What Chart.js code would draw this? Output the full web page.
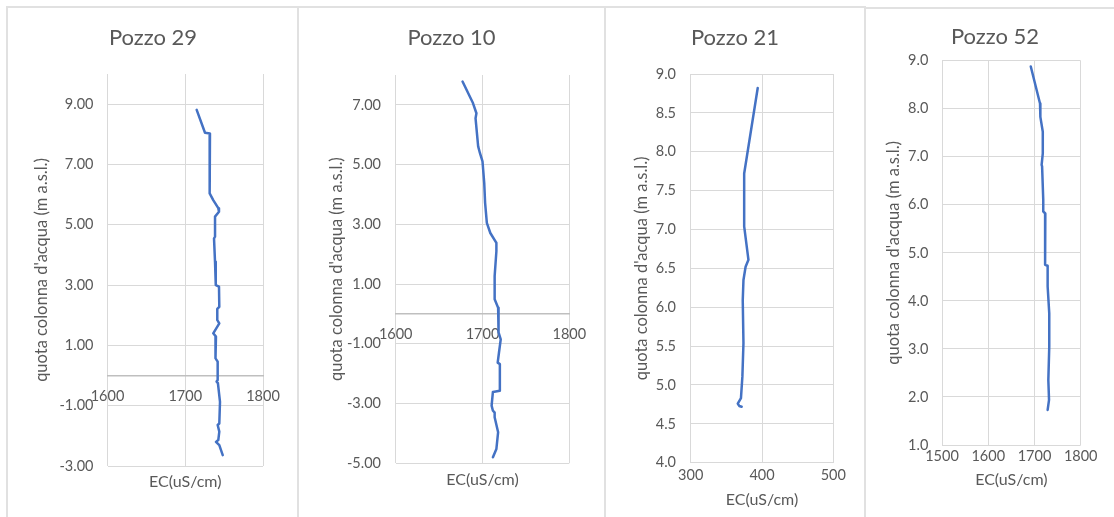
<!DOCTYPE html>
<html>
<head>
<meta charset="utf-8">
<script src="https://cdn.jsdelivr.net/npm/chart.js@4.4.1/dist/chart.umd.min.js"></script>
<style>
  html, body { margin: 0; padding: 0; background: #fff; width: 1114px; height: 517px; overflow: hidden; position: relative; }
  .card { position: absolute; box-sizing: border-box; border: 2px solid #e1e1e1; border-bottom: none; background: #fff; }
  canvas { position: absolute; }
</style>
</head>
<body>
<div class="card" style="left:6px;top:6px;width:293px;height:520px"></div>
<div class="card" style="left:297px;top:6px;width:310px;height:520px"></div>
<div class="card" style="left:604px;top:6px;width:262px;height:520px"></div>
<div class="card" style="left:864px;top:7px;width:260px;height:520px"></div>

<canvas id="c29" width="288" height="508" style="left:9px;top:9px"></canvas>
<canvas id="c10" width="303" height="508" style="left:300px;top:9px"></canvas>
<canvas id="c21" width="256" height="508" style="left:607px;top:9px"></canvas>
<canvas id="c52" width="256" height="507" style="left:867px;top:10px"></canvas>

<script>
// Conductivity profiles (EC, uS/cm) against water-column elevation (m a.s.l.)
const pozzo29EC    = [1714.7, 1725.4, 1731.8, 1731.8, 1731.0, 1731.8, 1731.0, 1736.0, 1742.5, 1743.4, 1738.3, 1738.3, 1737.0, 1738.3, 1739.0, 1739.5, 1743.4, 1743.8, 1741.2, 1741.2, 1743.8, 1736.0, 1739.5, 1739.5, 1738.3, 1741.7, 1741.7, 1740.3, 1742.0, 1744.7, 1743.8, 1741.7, 1743.8, 1742.5, 1739.5, 1743.8, 1748.2];
const pozzo29Quota = [8.81, 8.05, 8.03, 6.82, 6.75, 6.15, 6.04, 5.82, 5.55, 5.43, 5.27, 4.60, 4.55, 3.77, 3.72, 3.00, 2.95, 2.28, 2.21, 1.84, 1.73, 1.40, 1.29, 0.62, 0.57, 0.46, -0.15, -0.20, -0.25, -0.87, -1.59, -1.64, -1.86, -2.14, -2.20, -2.31, -2.64];

const pozzo10EC    = [1677, 1689, 1693, 1692, 1695, 1697, 1700, 1702, 1703, 1705, 1709, 1716, 1716, 1714, 1714, 1718, 1718, 1719, 1721, 1719, 1717.5, 1720, 1720, 1712, 1710.5, 1712, 1714, 1714, 1718, 1716, 1712];
const pozzo10Quota = [7.78, 7.06, 6.72, 6.55, 5.61, 5.39, 5.11, 4.38, 3.72, 3.05, 2.71, 2.38, 2.10, 1.27, 0.49, 0.21, 0.04, -0.62, -0.85, -1.29, -1.63, -1.68, -2.57, -2.61, -3.07, -3.24, -3.30, -3.46, -3.96, -4.52, -4.80];

const pozzo21EC    = [394, 375, 375, 377.5, 381, 377, 374, 373, 374, 372.5, 370.5, 366, 368, 371.5];
const pozzo21Quota = [8.82, 7.72, 7.04, 6.86, 6.61, 6.52, 6.35, 6.09, 5.54, 5.11, 4.83, 4.76, 4.73, 4.72];

const pozzo52EC    = [1692, 1712, 1713.5, 1712, 1718, 1718, 1715.5, 1716.5, 1719, 1719, 1723.5, 1723, 1723, 1728.5, 1728.5, 1732, 1732, 1730, 1731.5, 1728.5];
const pozzo52Quota = [8.88, 8.11, 8.01, 7.83, 7.52, 7.07, 6.83, 6.80, 6.10, 5.86, 5.82, 4.99, 4.75, 4.73, 4.30, 3.74, 3.05, 2.35, 1.94, 1.73];

// Axis ticks
const pozzo29XTicks = [1600, 1700, 1800];
const pozzo29YTicks = [-3, -1, 1, 3, 5, 7, 9];
const pozzo10XTicks = [1600, 1700, 1800];
const pozzo10YTicks = [-5, -3, -1, 1, 3, 5, 7];
const pozzo21XTicks = [300, 400, 500];
const pozzo21YTicks = [4.0, 4.5, 5.0, 5.5, 6.0, 6.5, 7.0, 7.5, 8.0, 8.5, 9.0];
const pozzo52XTicks = [1500, 1600, 1700, 1800];
const pozzo52YTicks = [1, 2, 3, 4, 5, 6, 7, 8, 9];

const X_TITLE = 'EC(uS/cm)';
const Y_TITLE = "quota colonna d'acqua (m a.s.l.)";

Chart.defaults.font.family = "Lato, 'Open Sans', sans-serif";
Chart.defaults.color = '#595959';

const GRID = '#d9d9d9';
const LINE = '#4472C4';
const TICK_FONT = { size: 14.5 };
const AXIS_TITLE_FONT = { size: 16.5 };

const tickList = (arr) => (axis) => { axis.ticks = arr.map(v => ({ value: v })); };
const plainNumber = (v) => String(v);

function panel(id, o) {
  const scales = {
    x: {
      type: 'linear', position: 'bottom',
      min: o.xTicks[0], max: o.xTicks[o.xTicks.length - 1],
      afterBuildTicks: tickList(o.xTicks),
      afterFit: (s) => { s.height = o.bottomH; },
      grid: { color: GRID, lineWidth: 1, drawTicks: false },
      border: { display: false },
      ticks: { display: !o.zeroAxis, padding: o.xTickPad || 0, maxRotation: 0, autoSkip: false, font: TICK_FONT, callback: plainNumber },
      title: { display: true, text: X_TITLE, font: { size: 16 }, padding: { top: 0, bottom: o.xTitlePad } }
    },
    y: {
      type: 'linear', position: 'left',
      min: o.yMin, max: o.yMax,
      afterBuildTicks: tickList(o.yTicks),
      afterFit: (s) => { s.width = o.yW; },
      grid: { color: GRID, lineWidth: 1, drawTicks: false },
      border: { display: false },
      ticks: { padding: o.yTickPad, autoSkip: false, font: TICK_FONT, callback: (v) => Number(v).toFixed(o.dec) },
      title: { display: true, text: Y_TITLE, font: AXIS_TITLE_FONT, padding: { top: o.yTitlePad, bottom: 0 } }
    },
    spacer: {
      type: 'linear', axis: 'y', position: 'right', display: true,
      afterFit: (s) => { s.width = o.rightW; },
      ticks: { display: false }, grid: { display: false, drawTicks: false }, border: { display: false }
    }
  };
  if (o.zeroAxis) {
    // horizontal axis crossing the vertical scale at 0
    scales.x0 = {
      type: 'linear', axis: 'x', position: { y: 0 },
      min: o.xTicks[0], max: o.xTicks[o.xTicks.length - 1],
      afterBuildTicks: tickList(o.xTicks),
      grid: { display: false, drawTicks: false },
      border: { display: true, color: '#bfbfbf', width: 1.5 },
      ticks: { padding: o.zeroPad, maxRotation: 0, autoSkip: false, font: TICK_FONT, callback: plainNumber }
    };
  }
  return new Chart(document.getElementById(id), {
    type: 'scatter',
    data: {
      datasets: [{
        data: o.ec.map((v, i) => ({ x: v, y: o.quota[i] })),
        showLine: true, fill: false, tension: 0,
        borderColor: LINE, backgroundColor: LINE, borderWidth: 2.5,
        borderJoinStyle: 'round', borderCapStyle: 'round',
        pointRadius: 0, pointHoverRadius: 0,
        xAxisID: 'x', yAxisID: 'y'
      }]
    },
    options: {
      responsive: false, animation: false, events: [],
      layout: { padding: 0 },
      scales,
      plugins: {
        legend: { display: false },
        tooltip: { enabled: false },
        title: {
          display: true, text: o.title, color: '#595959',
          font: { size: 22, weight: 'normal' },
          padding: { top: o.titleTop, bottom: o.titleBottom }
        }
      }
    }
  });
}

panel('c29', {
  title: 'Pozzo 29', ec: pozzo29EC, quota: pozzo29Quota,
  xTicks: pozzo29XTicks, yTicks: pozzo29YTicks, yMin: -3, yMax: 10, dec: 2,
  titleTop: 15.8, titleBottom: 22.8, yW: 98.5, yTickPad: 14, yTitlePad: 23.1,
  rightW: 34, bottomH: 51, xTitlePad: 25.4, zeroAxis: true, zeroPad: 12.3
});

panel('c10', {
  title: 'Pozzo 10', ec: pozzo10EC, quota: pozzo10Quota,
  xTicks: pozzo10XTicks, yTicks: pozzo10YTicks, yMin: -5, yMax: 8, dec: 2,
  titleTop: 15.8, titleBottom: 23.8, yW: 95.7, yTickPad: 14.7, yTitlePad: 26.8,
  rightW: 33.7, bottomH: 53.7, xTitlePad: 27.4, zeroAxis: true, zeroPad: 12
});

panel('c21', {
  title: 'Pozzo 21', ec: pozzo21EC, quota: pozzo21Quota,
  xTicks: pozzo21XTicks, yTicks: pozzo21YTicks, yMin: 4, yMax: 9, dec: 1,
  titleTop: 15.8, titleBottom: 22.8, yW: 83.7, yTickPad: 14.7, yTitlePad: 24.8,
  rightW: 29.7, bottomH: 54.3, xTickPad: 3.5, xTitlePad: 7.4, zeroAxis: false
});

panel('c52', {
  title: 'Pozzo 52', ec: pozzo52EC, quota: pozzo52Quota,
  xTicks: pozzo52XTicks, yTicks: pozzo52YTicks, yMin: 1, yMax: 9, dec: 1,
  titleTop: 13.5, titleBottom: 10.8, yW: 75, yTickPad: 13.7, yTitlePad: 16.4,
  rightW: 42.3, bottomH: 72, xTickPad: 2.8, xTitlePad: 27.4, zeroAxis: false
});
</script>
</body>
</html>
